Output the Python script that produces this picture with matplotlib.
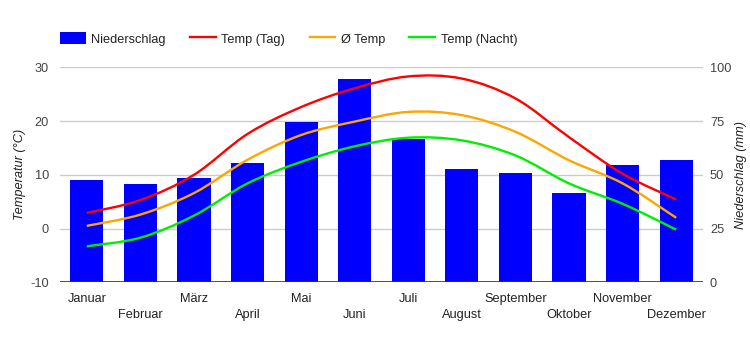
import matplotlib
matplotlib.use("Agg")
import matplotlib.pyplot as plt
import numpy as np
from matplotlib.path import Path
from matplotlib.patches import PathPatch, Patch
from matplotlib.lines import Line2D

months = ['Januar', 'Februar', 'März', 'April', 'Mai', 'Juni', 'Juli',
          'August', 'September', 'Oktober', 'November', 'Dezember']
rain = [47.6, 45.7, 48.5, 55.5, 74.6, 94.6, 66.7, 52.7, 50.8, 41.5, 54.6, 56.9]
t_day = [2.9, 5.3, 10.0, 17.6, 22.6, 26.1, 28.3, 27.9, 24.2, 17.0, 10.2, 5.4]
t_avg = [0.5, 2.6, 6.6, 12.8, 17.4, 19.9, 21.7, 21.1, 18.0, 12.7, 8.4, 2.0]
t_night = [-3.3, -1.7, 2.4, 8.4, 12.4, 15.3, 16.9, 16.4, 13.6, 8.4, 4.6, -0.2]

plt.rcParams['font.family'] = ['Liberation Sans', 'DejaVu Sans']
plt.rcParams['font.size'] = 9.2
plt.rcParams['axes.unicode_minus'] = False
TXT = '#444444'


def smooth_path(y):
    # catmull-rom through the points, drawn as cubic bezier segments
    y = np.asarray(y, float)
    x = np.arange(len(y), dtype=float)
    px = np.concatenate([[x[0]], x, [x[-1]]])
    py = np.concatenate([[y[0]], y, [y[-1]]])
    verts = [(x[0], y[0])]
    codes = [Path.MOVETO]
    for i in range(len(y) - 1):
        x0, x1, x2, x3 = px[i:i + 4]
        y0, y1, y2, y3 = py[i:i + 4]
        verts += [(x1 + (x2 - x0) / 6, y1 + (y2 - y0) / 6),
                  (x2 - (x3 - x1) / 6, y2 - (y3 - y1) / 6),
                  (x2, y2)]
        codes += [Path.CURVE4] * 3
    return Path(verts, codes)


fig = plt.figure(figsize=(7.5, 3.5), dpi=100)
axb = fig.add_axes([60 / 750, 1 - 282.3 / 350, 643 / 750, 215 / 350])
axt = axb.twinx()

x = np.arange(len(months))
axb.bar(x, rain, width=0.62, color='#0000ff', zorder=2)
axb.set_ylim(0, 100)
axb.set_xlim(-0.5, 11.5)
axb.set_yticks([0, 25, 50, 75, 100])
axb.grid(axis='y', color='#cccccc', linewidth=1, zorder=0)
axb.set_axisbelow(True)
axb.axhline(0, color='#333333', linewidth=1.2, zorder=3)
axb.yaxis.tick_right()
axb.yaxis.set_label_position('right')
axb.tick_params(axis='y', length=0, pad=5, labelcolor=TXT, labelsize=9.2)
axb.set_ylabel('Niederschlag (mm)', style='italic', color='#222222', labelpad=3, rotation=90)

axt.set_ylim(-10, 30)
axt.set_yticks([-10, 0, 10, 20, 30])
axt.yaxis.tick_left()
axt.yaxis.set_label_position('left')
axt.tick_params(axis='y', length=0, pad=8, labelcolor=TXT, labelsize=9.2)
axt.set_ylabel('Temperatur (°C)', style='italic', color='#222222', labelpad=3)

colors = {'day': '#ff0000', 'avg': '#ffa500', 'night': '#00ee00'}
for vals, c in [(t_night, colors['night']), (t_avg, colors['avg']), (t_day, colors['day'])]:
    axt.add_patch(PathPatch(smooth_path(vals), facecolor='none', edgecolor=c,
                            linewidth=1.7, zorder=4))

for a in (axb, axt):
    for s in a.spines.values():
        s.set_visible(False)

# alternating two-row month labels
axb.set_xticks(x[::2])
axb.set_xticklabels(months[::2])
axb.set_xticks(x[1::2], minor=True)
axb.set_xticklabels(months[1::2], minor=True)
axb.tick_params(axis='x', which='major', length=0, pad=8, labelcolor='#222222', labelsize=9.2)
axb.tick_params(axis='x', which='minor', length=0, pad=19, labelcolor='#222222', labelsize=9.2)

handles = [Patch(facecolor='#0000ff', edgecolor='none'),
           Line2D([], [], color=colors['day'], linewidth=1.7),
           Line2D([], [], color=colors['avg'], linewidth=1.7),
           Line2D([], [], color=colors['night'], linewidth=1.7)]
labels = ['Niederschlag', 'Temp (Tag)', 'Ø Temp', 'Temp (Nacht)']
fig.legend(handles, labels, loc='center left', bbox_to_anchor=(60 / 750, 1 - 39 / 350),
           ncol=4, frameon=False, borderpad=0, borderaxespad=0, handlelength=2.0,
           handleheight=1.0, handletextpad=0.45, columnspacing=1.9, labelcolor='#222222',
           fontsize=9.2)

fig.savefig('out.png', dpi=100)
